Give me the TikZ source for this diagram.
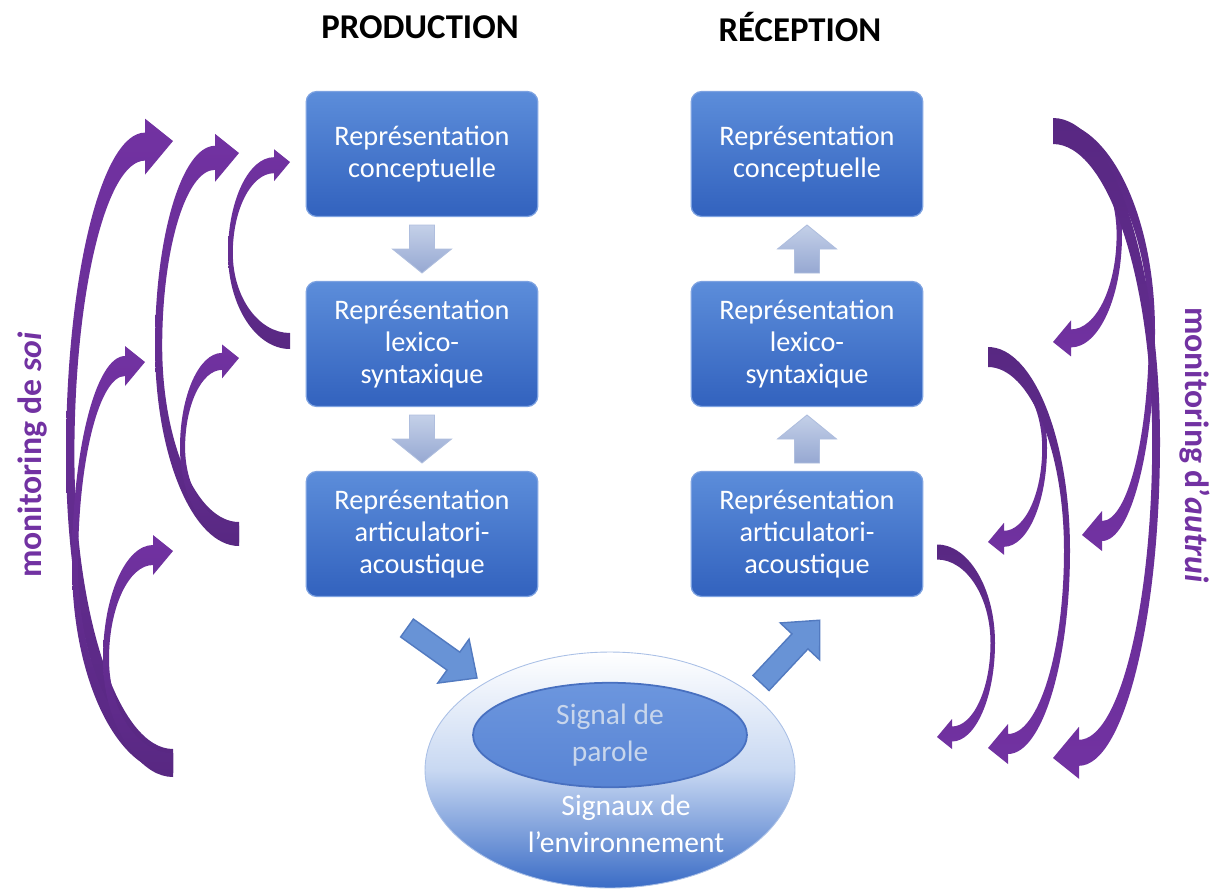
\documentclass[tikz,border=0pt]{standalone}
\usepackage{fontspec}
\setmainfont{Carlito}
\usetikzlibrary{shapes.geometric,calc}
\definecolor{boxtop}{RGB}{92,141,218}
\definecolor{boxbot}{RGB}{50,98,190}
\definecolor{boxedge}{RGB}{125,162,225}
\definecolor{flowtop}{RGB}{196,208,232}
\definecolor{flowbot}{RGB}{150,168,210}
\definecolor{flowedge}{RGB}{175,190,222}
\definecolor{bigarrow}{RGB}{104,147,214}
\definecolor{bigedge}{RGB}{82,122,192}
\definecolor{envmid}{RGB}{200,216,242}
\definecolor{envbot}{RGB}{58,108,198}
\definecolor{envedge}{RGB}{170,192,230}
\definecolor{paroletop}{RGB}{108,150,222}
\definecolor{parolebot}{RGB}{88,132,212}
\definecolor{paroleedge}{RGB}{72,112,192}
\definecolor{paroletxt}{RGB}{200,214,236}
\definecolor{monviolet}{RGB}{114,50,162}
\definecolor{mondark}{RGB}{88,40,130}
\tikzstyle{bloc} = [rectangle, rounded corners=6pt, draw=boxedge, line width=0.7pt, top color=boxtop, bottom color=boxbot, minimum height=2.5cm, minimum width=4.58cm, text width=4.4cm, text centered, text=white, font=\fontsize{16.1}{18.2}\selectfont]
\tikzstyle{flow} = [draw=flowedge, line width=0.5pt, top color=flowtop, bottom color=flowbot]
\tikzstyle{bigflow} = [draw=bigedge, line width=0.8pt, fill=bigarrow]
\tikzstyle{monsoi} = [top color=monviolet, bottom color=mondark]
\tikzstyle{monautrui} = [top color=mondark, bottom color=monviolet]
\tikzstyle{titre} = [font=\fontsize{19.8}{22}\selectfont\bfseries]
\tikzstyle{monlabel} = [text=monviolet, font=\fontsize{19.2}{22}\selectfont\bfseries]
\newcommand{\flowdown}[1]{\path[flow, shift={#1}] (-12.5,-24) -- (12.5,-24) -- (12.5,0) -- (29.5,0) -- (0,24) -- (-29.5,0) -- (-12.5,0) -- cycle;}
\newcommand{\flowup}[1]{\path[flow, shift={#1}] (-12.5,24) -- (12.5,24) -- (12.5,0) -- (29.5,0) -- (0,-24) -- (-29.5,0) -- (-12.5,0) -- cycle;}
\newcommand{\signalarrow}[2]{\path[bigflow, shift={#1}, rotate=#2] (0,-11) -- (57,-11) -- (57,-27) -- (86,0) -- (57,27) -- (57,11) -- (0,11) -- cycle;}
\newcommand{\soiarrow}[6]{%
  \pgfmathsetmacro{\mbx}{#3-2*#6}
  \pgfmathsetmacro{\mby}{#4+0.4*#6}
  \pgfmathsetmacro{\mym}{(#2+\mby)/2}
  \pgfmathsetmacro{\mxi}{#5+0.6*#6}
  \path[monsoi] (#1,{#2+#6})
    .. controls ({#1-0.55*(#1-#5)},{#2+#6}) and (#5,{\mym+0.55*(#2+#6-\mym)}) .. (#5,\mym)
    .. controls (#5,{\mym-0.55*(\mym-\mby+#6)}) and ({\mbx-0.55*(\mbx-#5)},{\mby-#6}) .. (\mbx,{\mby-#6})
    -- (\mbx,{\mby-2*#6}) -- (#3,#4) -- (\mbx,{\mby+2*#6}) -- (\mbx,{\mby+#6})
    .. controls ({\mbx-0.55*(\mbx-\mxi)},{\mby+#6}) and (\mxi,{\mym-0.55*(\mym-\mby-#6)}) .. (\mxi,\mym)
    .. controls (\mxi,{\mym+0.55*(#2-#6-\mym)}) and ({#1-0.55*(#1-\mxi)},{#2-#6}) .. (#1,{#2-#6})
    -- cycle;}
\newcommand{\autruiarrow}[6]{%
  \pgfmathsetmacro{\mbx}{#3+2*#6}
  \pgfmathsetmacro{\mby}{#4-0.4*#6}
  \pgfmathsetmacro{\mym}{(#2+\mby)/2}
  \pgfmathsetmacro{\mxi}{#5-0.6*#6}
  \path[monautrui] (#1,{#2-#6})
    .. controls ({#1+0.55*(#5-#1)},{#2-#6}) and (#5,{\mym-0.55*(\mym-#2+#6)}) .. (#5,\mym)
    .. controls (#5,{\mym+0.55*(\mby+#6-\mym)}) and ({\mbx+0.55*(#5-\mbx)},{\mby+#6}) .. (\mbx,{\mby+#6})
    -- (\mbx,{\mby+2*#6}) -- (#3,#4) -- (\mbx,{\mby-2*#6}) -- (\mbx,{\mby-#6})
    .. controls ({\mbx+0.55*(\mxi-\mbx)},{\mby-#6}) and (\mxi,{\mym+0.55*(\mby-#6-\mym)}) .. (\mxi,\mym)
    .. controls (\mxi,{\mym-0.55*(\mym-#2-#6)}) and ({#1+0.55*(\mxi-#1)},{#2+#6}) .. (#1,{#2+#6})
    -- cycle;}

\begin{document}
\begin{tikzpicture}[x=0.02cm, y=-0.02cm]
  \useasboundingbox (0,0) rectangle (1221,890);

  \node[titre] (titprod) at (420,27) {PRODUCTION};
  \node[titre] (titrec) at (800,27) {RÉCEPTION};

  \node[bloc] (prodconc) at (422,154) {Représentation\\conceptuelle};
  \node[bloc] (prodlex) at (422,344) {Représentation\\lexico-\\syntaxique};
  \node[bloc] (prodart) at (422,534) {Représentation\\articulatori-\\acoustique};
  \node[bloc] (recconc) at (807,154) {Représentation\\conceptuelle};
  \node[bloc] (reclex) at (807,344) {Représentation\\lexico-\\syntaxique};
  \node[bloc] (recart) at (807,534) {Représentation\\articulatori-\\acoustique};

  \flowdown{($(prodconc.south)!0.5!(prodlex.north)$)}
  \flowdown{($(prodlex.south)!0.5!(prodart.north)$)}
  \flowup{($(recconc.south)!0.5!(reclex.north)$)}
  \flowup{($(reclex.south)!0.5!(recart.north)$)}

  \node[ellipse, minimum width=7.4cm, minimum height=4.72cm, top color=white, bottom color=envbot, middle color=envmid, draw=envedge, line width=0.5pt] (envir) at (610,770) {};
  \node[ellipse, minimum width=5.48cm, minimum height=1.88cm, top color=paroletop, bottom color=parolebot, draw=paroleedge, line width=1pt, text=paroletxt, align=center, font=\fontsize{16.8}{21}\selectfont] (parole) at (610,735) {Signal de\\parole};
  \node[text=white, align=center, font=\fontsize{16.8}{21}\selectfont] (envtext) at (626,824) {Signaux de\\l’environnement};

  \coordinate (emission) at (407,628);
  \coordinate (perception) at (761,683);
  \signalarrow{(emission)}{-35.5}
  \signalarrow{(perception)}{46.9}

  \soiarrow{173}{763}{173}{141}{66}{14}
  \soiarrow{173}{763}{145}{362}{72}{10}
  \soiarrow{173}{763}{173}{551}{103}{10}
  \soiarrow{239}{534}{239}{153}{155}{12}
  \soiarrow{239}{534}{239}{358}{180}{8.5}
  \soiarrow{290}{341}{290}{162}{228}{8}

  \autruiarrow{1053}{131}{1053}{342}{1122}{9}
  \autruiarrow{1053}{131}{1082}{535}{1155}{10}
  \autruiarrow{1053}{131}{1053}{758}{1160}{13}
  \autruiarrow{988}{357}{988}{542}{1047}{8}
  \autruiarrow{988}{357}{988}{748}{1070}{10}
  \autruiarrow{937}{552}{937}{737}{995}{7.5}

  \node[monlabel, rotate=90] (monsoi) at (33,455) {monitoring de \textit{soi}};
  \node[monlabel, rotate=-90] (monautrui) at (1195,445) {monitoring d’\textit{autrui}};
\end{tikzpicture}
\end{document}
